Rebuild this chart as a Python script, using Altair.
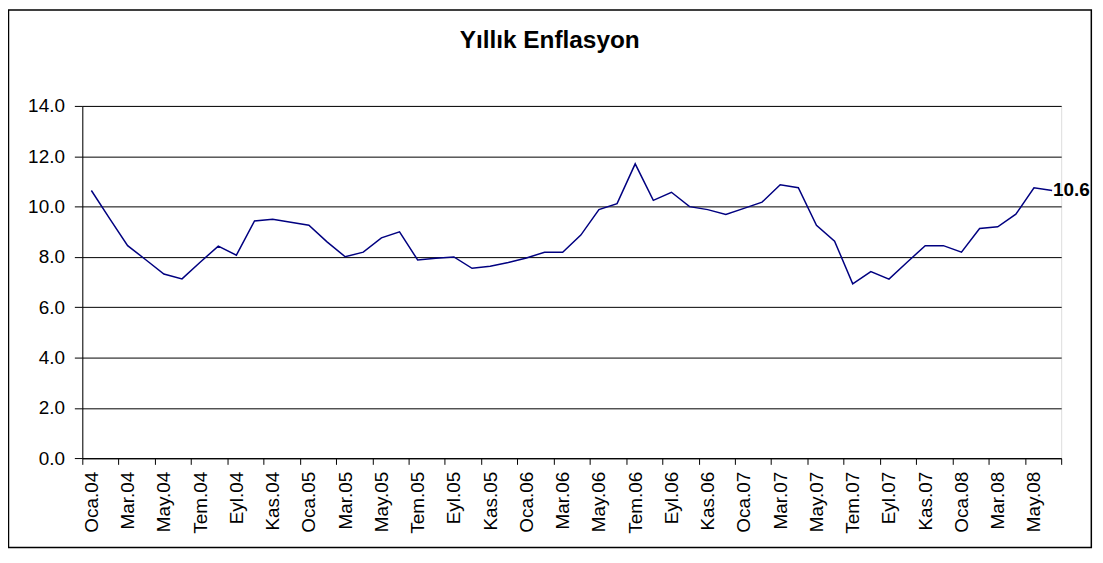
import json
import altair as alt
import pandas as pd

title_text = "Yıllık Enflasyon"
month_abbr = ["Oca", "Şub", "Mar", "Nis", "May", "Haz", "Tem", "Ağu", "Eyl", "Eki", "Kas", "Ara"]
years = ["04", "05", "06", "07", "08"]
months = [f"{m}.{y}" for y in years for m in month_abbr][:54]  # Oca.04 .. Haz.08

values = [10.64, 9.53, 8.45, 7.89, 7.32, 7.13, 7.79, 8.43, 8.07, 9.43, 9.50, 9.38,
          9.26, 8.60, 8.01, 8.19, 8.76, 9.00, 7.88, 7.95, 8.00, 7.55, 7.63, 7.78,
          7.96, 8.19, 8.19, 8.87, 9.88, 10.12, 11.70, 10.25, 10.57, 10.00, 9.88, 9.69,
          9.93, 10.18, 10.87, 10.75, 9.26, 8.63, 6.93, 7.42, 7.12, 7.79, 8.45, 8.45,
          8.19, 9.13, 9.20, 9.70, 10.75, 10.64]
y_ticks = [0, 2, 4, 6, 8, 10, 12, 14]

df = pd.DataFrame({"idx": list(range(len(months))), "ay": months, "val": values})

W, H = 984, 354.3
FONT = "Liberation Sans"
n = len(months)
step = W / n
tick_vals = [i - 0.5 for i in range(0, n + 1, 2)]
label_expr = (f"datum.value < {n - 1} ? {json.dumps(months, ensure_ascii=False)}"
              f"[round(datum.value + 0.5)] : ''")

x_enc = alt.X(
    "idx:Q",
    scale=alt.Scale(domain=[-0.5, n - 0.5], nice=False, zero=False),
    axis=alt.Axis(
        values=tick_vals, tickCount=200, labelExpr=label_expr, labelAngle=-90,
        labelOffset=step / 2,
        labelOverlap=False, labelFlush=False, labelBound=False,
        grid=False, tickSize=6, tickColor="black", domainColor="black",
        labelPadding=7, labelFontSize=19, labelFont=FONT, labelColor="black", title=None,
    ),
)
y_enc = alt.Y(
    "val:Q",
    scale=alt.Scale(domain=[0, 14], nice=False),
    axis=alt.Axis(
        values=y_ticks, format=".1f", grid=True, gridColor="black", gridWidth=1,
        tickSize=8, tickColor="black", domainColor="black", labelPadding=10,
        labelFontSize=19, labelFont=FONT, labelColor="black", title=None,
    ),
)

base = alt.Chart(df)
line = base.mark_line(color="#000080", strokeWidth=1.5).encode(x=x_enc, y=y_enc)
last_label = base.transform_filter(f"datum.idx == {n - 1}").mark_text(
    align="left", baseline="middle", dx=1, font=FONT, fontSize=19, fontWeight="bold",
    color="black",
).encode(x="idx:Q", y="val:Q", text=alt.Text("val:Q", format=".1f"))

title_df = pd.DataFrame({"t": [title_text]})
title = alt.Chart(title_df).mark_text(
    font=FONT, fontSize=24.5, fontWeight="bold", color="black",
    align="center", baseline="alphabetic",
).encode(text="t:N", x=alt.value(469.8), y=alt.value(-58.3))

border = alt.Chart(title_df).mark_rect(
    fillOpacity=0, stroke="black", strokeWidth=1.5,
).encode(x=alt.value(-74.2), x2=alt.value(1014.3), y=alt.value(-96.3), y2=alt.value(444))

chart = alt.layer(border, line, last_label, title).properties(
    width=W, height=H,
    autosize=alt.AutoSizeParams(type="none"),
    padding={"left": 74.7, "top": 97, "right": 34, "bottom": 94},
).configure_view(stroke=None).configure(background="white")

chart.save("out.html", embed_options={"renderer": "svg", "actions": False})
